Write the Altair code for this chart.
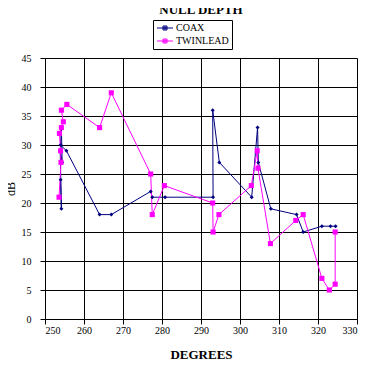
import altair as alt
import pandas as pd

series_names = ["COAX", "TWINLEAD"]
series_colors = ["#000080", "#FF00FF"]

coax_deg = [254.0, 254.2, 253.9, 254.4, 254.2, 254.0, 255.5, 264.0, 267.0, 277.1,
            277.5, 280.8, 293.1, 293.0, 294.7, 303.0, 304.5, 304.7, 307.9, 314.5,
            316.2, 321.0, 323.2, 324.5]
coax_db = [24, 19, 29, 27, 33, 30, 29, 18, 18, 22,
           21, 21, 21, 36, 27, 21, 33, 27, 19, 18,
           15, 16, 16, 16]

twin_deg = [253.6, 254.1, 254.0, 253.7, 254.2, 254.7, 254.2, 255.6, 264.0, 267.0,
            277.1, 277.5, 280.6, 293.0, 293.1, 294.6, 302.9, 304.4, 304.6, 307.8,
            314.3, 316.2, 321.0, 322.9, 324.4, 324.4]
twin_db = [21, 27, 29, 32, 33, 34, 36, 37, 33, 39,
           25, 18, 23, 20, 15, 18, 23, 29, 26, 13,
           17, 18, 7, 5, 6, 15]

x_ticks = [250, 260, 270, 280, 290, 300, 310, 320, 330]
y_ticks = [0, 5, 10, 15, 20, 25, 30, 35, 40, 45]

rows = []
for i, (d, v) in enumerate(zip(coax_deg, coax_db)):
    rows.append({"series": "COAX", "deg": d, "db": v, "idx": i})
for i, (d, v) in enumerate(zip(twin_deg, twin_db)):
    rows.append({"series": "TWINLEAD", "deg": d, "db": v, "idx": i})
df = pd.DataFrame(rows)

FONT = "Liberation Serif"

axis_style = dict(grid=True, gridColor="#000000", gridOpacity=1, gridWidth=1,
                  domainColor="#000000", tickColor="#000000",
                  labelColor="#000000", titleColor="#000000", labelFont=FONT,
                  titleFont=FONT, labelOverlap=False, tickSize=5, labelFontSize=10)

x_scale = alt.Scale(domain=[250, 330], nice=False, zero=False)
y_scale = alt.Scale(domain=[0, 45], nice=False)

x_enc = alt.X("deg:Q", scale=x_scale,
              axis=alt.Axis(values=x_ticks, title="DEGREES", titleFontWeight="bold",
                            titleFontSize=13, titlePadding=13, labelPadding=1,
                            format="d", **axis_style))
y_enc = alt.Y("db:Q", scale=y_scale,
              axis=alt.Axis(values=y_ticks, title="dB", titleFontWeight="normal",
                            titleFontSize=12, titlePadding=4, labelPadding=9,
                            **axis_style))

legend_path = ("M-1,0H3M0.5,-0.5H1.5V0.5H0.5Z"
               "M0.75,-0.25H1.25V0.25H0.75Z")
legend = alt.Legend(title=None, orient="none", legendX=108, legendY=-38,
                    symbolType=legend_path, symbolSize=64,
                    symbolStrokeWidth=1, labelFont=FONT, labelColor="black",
                    labelFontSize=10, labelOffset=10, rowPadding=3,
                    padding=3, strokeColor="black", fillColor="white")

base = alt.Chart(df).encode(x=x_enc, y=y_enc)

lines = base.mark_line(strokeWidth=1).encode(
    stroke=alt.Stroke("series:N", scale=alt.Scale(domain=series_names, range=series_colors),
                      legend=legend),
    order="idx:Q",
)

coax_pts = base.transform_filter(alt.datum.series == "COAX").mark_point(
    filled=True, opacity=1, shape="diamond", size=16, color=series_colors[0])
twin_pts = base.transform_filter(alt.datum.series == "TWINLEAD").mark_point(
    filled=True, opacity=1, shape="square", size=26, color=series_colors[1])

chart = alt.layer(lines, coax_pts, twin_pts).properties(
    width=312, height=261,
    padding={"left": 37, "top": 50, "right": 8, "bottom": 50},
    autosize=alt.AutoSizeParams(type="none"),
    background="white",
    title=alt.TitleParams("NULL DEPTH", font=FONT, fontSize=13, fontWeight="bold",
                          anchor="middle", offset=3, color="black"),
).configure_axis(gridColor="#000000", gridOpacity=1).configure_legend(
    labelFont=FONT, labelColor="black").configure_view(stroke=None)

chart.save("out.html", embed_options={"renderer": "svg", "actions": False})
